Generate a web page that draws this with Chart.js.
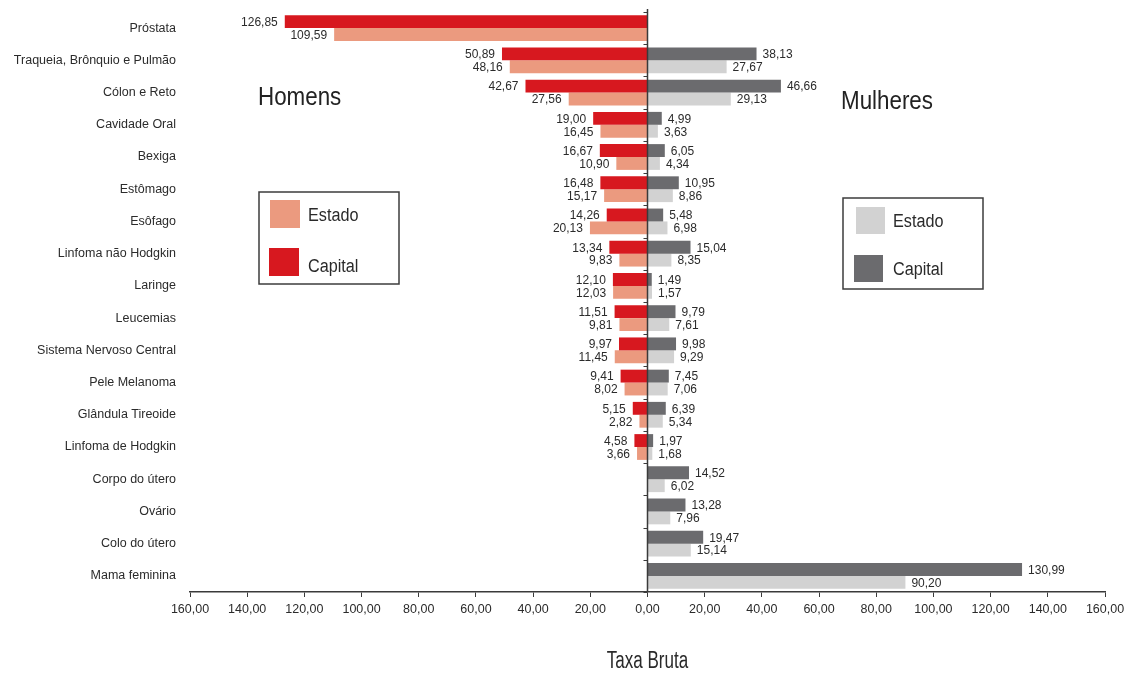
<!DOCTYPE html>
<html lang="pt-BR">
<head>
<meta charset="utf-8">
<title>Taxa Bruta – Homens e Mulheres</title>
<script src="https://cdn.jsdelivr.net/npm/chart.js@4.4.1/dist/chart.umd.min.js"></script>
<style>
  html, body { margin: 0; padding: 0; background: #ffffff; }
  #wrap { width: 1132px; height: 674px; position: relative; }
</style>
</head>
<body>
<div id="wrap"><canvas id="chart" width="1132" height="674"></canvas></div>
<script>
// Cancer sites (rows, top to bottom)
const categories = [
  'Próstata',
  'Traqueia, Brônquio e Pulmão',
  'Cólon e Reto',
  'Cavidade Oral',
  'Bexiga',
  'Estômago',
  'Esôfago',
  'Linfoma não Hodgkin',
  'Laringe',
  'Leucemias',
  'Sistema Nervoso Central',
  'Pele Melanoma',
  'Glândula Tireoide',
  'Linfoma de Hodgkin',
  'Corpo do útero',
  'Ovário',
  'Colo do útero',
  'Mama feminina'
];

// Crude rates (taxa bruta) — men
const homensCapital = [126.85, 50.89, 42.67, 19.00, 16.67, 16.48, 14.26, 13.34, 12.10, 11.51, 9.97, 9.41, 5.15, 4.58, null, null, null, null];
const homensEstado  = [109.59, 48.16, 27.56, 16.45, 10.90, 15.17, 20.13, 9.83, 12.03, 9.81, 11.45, 8.02, 2.82, 3.66, null, null, null, null];

// Crude rates (taxa bruta) — women
const mulheresCapital = [null, 38.13, 46.66, 4.99, 6.05, 10.95, 5.48, 15.04, 1.49, 9.79, 9.98, 7.45, 6.39, 1.97, 14.52, 13.28, 19.47, 130.99];
const mulheresEstado  = [null, 27.67, 29.13, 3.63, 4.34, 8.86, 6.98, 8.35, 1.57, 7.61, 9.29, 7.06, 5.34, 1.68, 6.02, 7.96, 15.14, 90.20];

// Axis range and step (values shown on both sides as absolute numbers)
const axisMax = 160;
const axisStep = 20;

const groupTitles = ['Homens', 'Mulheres'];
const legendLabels = ['Estado', 'Capital'];
const axisTitle = 'Taxa Bruta';

const COLORS = {
  homensCapital: '#d7181f',
  homensEstado: '#eb9a7f',
  mulheresCapital: '#6b6b6e',
  mulheresEstado: '#d2d2d2',
  text: '#2b2b2b',
  axis: '#3a3a3a'
};

const FONT = '"Liberation Sans", Arial, Helvetica, sans-serif';

const fmt = v => Math.abs(v).toFixed(2).replace('.', ',');
const neg = arr => arr.map(v => (v == null ? null : -v));

// Draw text squeezed horizontally (condensed look)
function condensed(ctx, text, x, y, size, sx, align) {
  ctx.save();
  ctx.font = size + 'px ' + FONT;
  ctx.textBaseline = 'middle';
  ctx.textAlign = align || 'left';
  ctx.translate(x, y);
  ctx.scale(sx, 1);
  ctx.fillText(text, 0, 0);
  ctx.restore();
}

const sourceArrays = [homensCapital, homensEstado, mulheresCapital, mulheresEstado];

const decorPlugin = {
  id: 'pyramidDecor',
  afterDatasetsDraw(chart) {
    const { ctx, chartArea } = chart;
    const xs = chart.scales.x;
    const ys = chart.scales.y;
    const x0 = xs.getPixelForValue(0);

    // central zero line with small ticks at row boundaries
    ctx.save();
    ctx.strokeStyle = COLORS.axis;
    ctx.lineWidth = 1.5;
    ctx.beginPath();
    ctx.moveTo(x0, chartArea.top - 3);
    ctx.lineTo(x0, chartArea.bottom);
    ctx.stroke();
    const band = ys.getPixelForValue(1) - ys.getPixelForValue(0);
    ctx.lineWidth = 1;
    for (let i = 0; i <= categories.length; i++) {
      const yy = Math.round(ys.getPixelForValue(0) - band / 2 + i * band) + 0.5;
      ctx.beginPath();
      ctx.moveTo(x0 - 4, yy);
      ctx.lineTo(x0, yy);
      ctx.stroke();
    }
    ctx.restore();

    // value labels at the end of each bar
    ctx.save();
    ctx.fillStyle = COLORS.text;
    ctx.font = '12px ' + FONT;
    ctx.textBaseline = 'middle';
    chart.data.datasets.forEach((ds, di) => {
      const meta = chart.getDatasetMeta(di);
      const src = sourceArrays[di];
      meta.data.forEach((bar, j) => {
        const v = src[j];
        if (v == null) return;
        const left = di < 2;
        ctx.textAlign = left ? 'right' : 'left';
        ctx.fillText(fmt(v), bar.x + (left ? -7 : 6), bar.y + 1);
      });
    });
    ctx.restore();
  },
  afterDraw(chart) {
    const { ctx } = chart;
    ctx.save();
    ctx.fillStyle = '#222';
    condensed(ctx, groupTitles[0], 258, 98, 26, 0.86, 'left');
    condensed(ctx, groupTitles[1], 841, 102, 26, 0.86, 'left');

    // legend boxes
    const boxes = [
      { x: 259, y: 192, w: 140, h: 92, sw: [[270, 200, 30, 28, COLORS.homensEstado], [269, 248, 30, 28, COLORS.homensCapital]], tx: 308, ty: [216, 267] },
      { x: 843, y: 198, w: 140, h: 91, sw: [[856, 207, 29, 27, COLORS.mulheresEstado], [854, 255, 29, 27, COLORS.mulheresCapital]], tx: 893, ty: [222, 270] }
    ];
    boxes.forEach(b => {
      ctx.strokeStyle = '#3c3c3c';
      ctx.lineWidth = 1.5;
      ctx.strokeRect(b.x, b.y, b.w, b.h);
      b.sw.forEach(s => { ctx.fillStyle = s[4]; ctx.fillRect(s[0], s[1], s[2], s[3]); });
      ctx.fillStyle = '#2a2a2a';
      condensed(ctx, legendLabels[0], b.tx, b.ty[0], 18, 0.9, 'left');
      condensed(ctx, legendLabels[1], b.tx, b.ty[1], 18, 0.9, 'left');
    });

    // x axis title
    ctx.fillStyle = '#2a2a2a';
    const xs = chart.scales.x;
    condensed(ctx, axisTitle, xs.getPixelForValue(0), 662, 23, 0.74, 'center');
    ctx.restore();
  }
};

new Chart(document.getElementById('chart'), {
  type: 'bar',
  data: {
    labels: categories,
    datasets: [
      { label: 'Homens – Capital', data: neg(homensCapital), backgroundColor: COLORS.homensCapital, stack: 'capital' },
      { label: 'Homens – Estado', data: neg(homensEstado), backgroundColor: COLORS.homensEstado, stack: 'estado' },
      { label: 'Mulheres – Capital', data: mulheresCapital, backgroundColor: COLORS.mulheresCapital, stack: 'capital' },
      { label: 'Mulheres – Estado', data: mulheresEstado, backgroundColor: COLORS.mulheresEstado, stack: 'estado' }
    ]
  },
  options: {
    indexAxis: 'y',
    responsive: false,
    animation: false,
    datasets: { bar: { categoryPercentage: 0.8, barPercentage: 1.0, borderWidth: 0 } },
    layout: { padding: { top: 12, right: 27, bottom: 0, left: 0 } },
    plugins: { legend: { display: false }, tooltip: { enabled: false } },
    scales: {
      x: {
        stacked: true,
        min: -axisMax,
        max: axisMax,
        ticks: {
          stepSize: axisStep,
          callback: v => fmt(v),
          color: COLORS.text,
          font: { family: FONT, size: 12.5 },
          padding: 5,
          maxRotation: 0,
          autoSkip: false
        },
        grid: { drawOnChartArea: false, drawTicks: true, tickLength: 5, color: COLORS.axis, lineWidth: 1 },
        border: { display: true, color: COLORS.axis, width: 1.5 },
        afterFit: s => { s.height = 82; }
      },
      y: {
        stacked: true,
        grid: { display: false, drawTicks: false },
        border: { display: false },
        ticks: {
          color: COLORS.text,
          font: { family: FONT, size: 12.5 },
          padding: 14,
          autoSkip: false
        },
        afterFit: s => { s.width = 190; s.paddingTop = 0; s.paddingBottom = 0; }
      }
    }
  },
  plugins: [decorPlugin]
});
</script>
</body>
</html>
